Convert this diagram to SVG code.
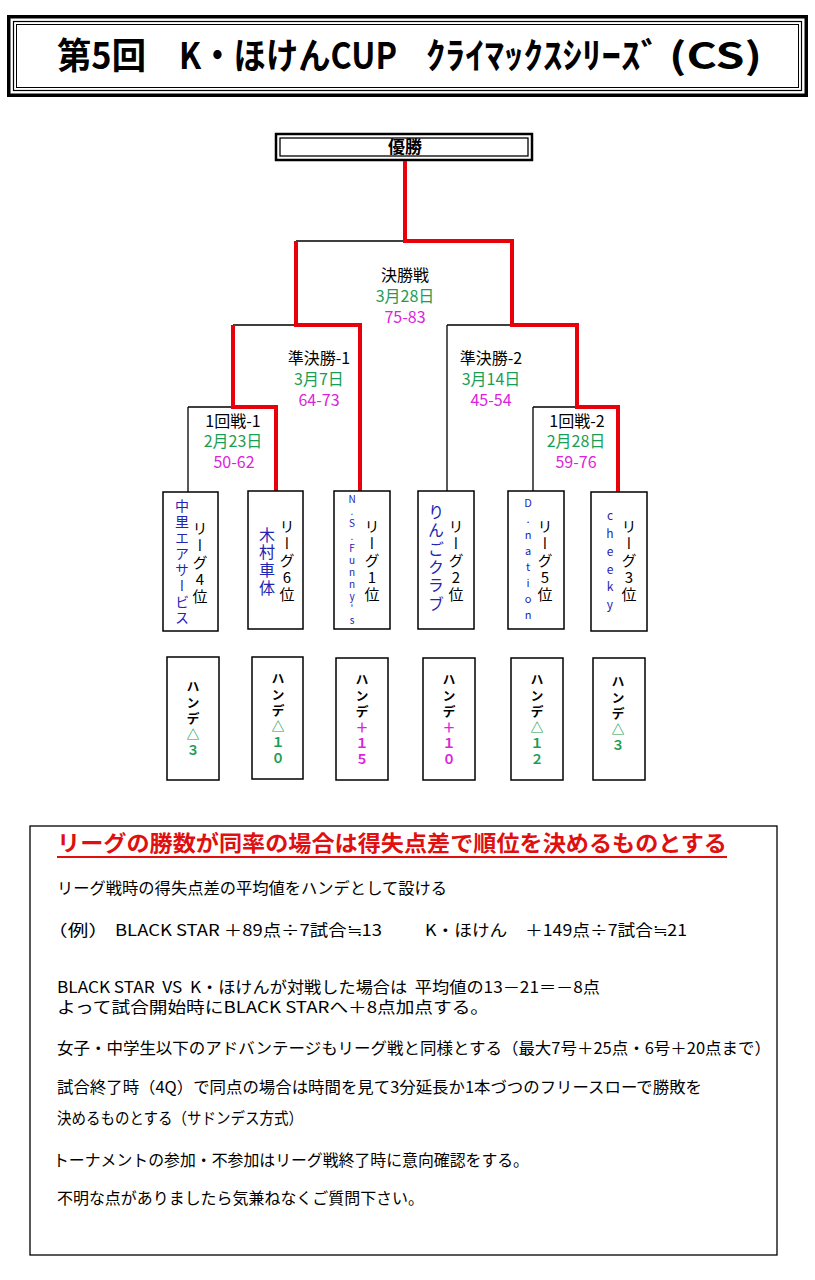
<svg xmlns="http://www.w3.org/2000/svg" width="815" height="1280" viewBox="0 0 815 1280">
<style>
text{font-family:"Noto Sans CJK JP","Noto Sans CJK SC",sans-serif;}
.box{fill:#fff;stroke:#000;stroke-width:1.5}
.thin{fill:none;stroke:#000;stroke-width:1.3}
.red{fill:none;stroke:#e8000b;stroke-width:4;stroke-linejoin:miter;stroke-linecap:butt}
.lbl{font-size:16px;text-anchor:middle;fill:#000}
.date{fill:#1a9e55}
.score{fill:#dd22dd}
.vt{writing-mode:vertical-rl;text-orientation:upright;text-anchor:middle}
.rank{font-size:15px;letter-spacing:2px;fill:#000}
.team{fill:#2424b4}
.hande{font-size:13px;font-weight:bold;letter-spacing:3px;fill:#000}
.grn{fill:#1a9e55}
.mag{fill:#dd22dd}
.note{font-size:16px;fill:#000}
</style>
<rect width="815" height="1280" fill="#fff"/>

<g id="title">
  <rect x="8.75" y="16.75" width="797.5" height="78.5" fill="#fff" stroke="#000" stroke-width="3.5"/>
  <rect x="13.5" y="21.5" width="788" height="69" fill="none" stroke="#000" stroke-width="1.2"/>
  <rect x="16.5" y="24.5" width="782" height="63" fill="none" stroke="#000" stroke-width="1"/>
  <text y="69" font-size="36" font-weight="bold" lengthAdjust="spacingAndGlyphs"><tspan x="57" textLength="89" lengthAdjust="spacingAndGlyphs">第5回</tspan><tspan x="179" textLength="218" lengthAdjust="spacingAndGlyphs">K・ほけんCUP</tspan><tspan x="426" textLength="234" lengthAdjust="spacingAndGlyphs">ｸﾗｲﾏｯｸｽｼﾘｰｽﾞ</tspan><tspan x="669" textLength="93" lengthAdjust="spacingAndGlyphs">(CS)</tspan></text>
</g>

<g id="champion">
  <rect x="276" y="134" width="256" height="26" fill="#fff" stroke="#000" stroke-width="2.5"/>
  <rect x="280" y="138" width="248" height="18" fill="none" stroke="#000" stroke-width="1.3"/>
  <text x="405" y="153" font-size="17" font-weight="bold" text-anchor="middle">優勝</text>
</g>

<g id="connectors">
  <path class="thin" d="M296,241 H405 M233,325 H296 M188,407 H233 M188,407 V492 M447,325 H512 M447,325 V491 M533,407 H577 M533,407 V491"/>
  <path class="red" d="M405,161 V241 H512 V325 H577 V407 H618 V492"/>
  <path class="red" d="M296,241 V325 H360 V491"/>
  <path class="red" d="M233,325 V407 H276 V491"/>
</g>

<g id="final-label">
  <text class="lbl" x="405" y="281">決勝戦</text>
  <text class="lbl date" x="405" y="302">3月28日</text>
  <text class="lbl score" x="405" y="323">75-83</text>
</g>
<g id="semi1-label">
  <text class="lbl" x="319" y="364">準決勝-1</text>
  <text class="lbl date" x="319" y="385">3月7日</text>
  <text class="lbl score" x="319" y="406">64-73</text>
</g>
<g id="semi2-label">
  <text class="lbl" x="491" y="364">準決勝-2</text>
  <text class="lbl date" x="491" y="385">3月14日</text>
  <text class="lbl score" x="491" y="406">45-54</text>
</g>
<g id="r1-1-label">
  <text class="lbl" x="233" y="427">1回戦-1</text>
  <text class="lbl date" x="233" y="447">2月23日</text>
  <text class="lbl score" x="234" y="468">50-62</text>
</g>
<g id="r1-2-label">
  <text class="lbl" x="577" y="427">1回戦-2</text>
  <text class="lbl date" x="576" y="447">2月28日</text>
  <text class="lbl score" x="576" y="468">59-76</text>
</g>

<g id="team1">
  <rect class="box" x="163" y="492" width="55" height="139"/>
  <text class="vt team" x="182" y="563" font-size="14" letter-spacing="2">中里エアサービス</text>
  <text class="vt rank" x="200" y="563">リーグ4位</text>
</g>
<g id="team2">
  <rect class="box" x="248" y="491" width="55" height="138"/>
  <text class="vt team" x="267" y="562" font-size="16" letter-spacing="1.7">木村車体</text>
  <text class="vt rank" x="287" y="561">リーグ6位</text>
</g>
<g id="team3">
  <rect class="box" x="334" y="491" width="56" height="138"/>
  <text class="vt team" x="352" y="561" font-size="10" letter-spacing="2.1">N.S.Funny's</text>
  <text class="vt rank" x="372" y="561">リーグ1位</text>
</g>
<g id="team4">
  <rect class="box" x="418" y="491" width="56" height="138"/>
  <text class="vt team" x="436" y="559" font-size="16" letter-spacing="2.3">りんごクラブ</text>
  <text class="vt rank" x="456" y="561">リーグ2位</text>
</g>
<g id="team5">
  <rect class="box" x="508" y="491" width="56" height="138"/>
  <text class="vt team" x="528" y="561" font-size="11" letter-spacing="5">D.nation</text>
  <text class="vt rank" x="545" y="561">リーグ5位</text>
</g>
<g id="team6">
  <rect class="box" x="591" y="492" width="56" height="139"/>
  <text class="vt team" x="610" y="563" font-size="12" letter-spacing="5.8">cheeky</text>
  <text class="vt rank" x="629" y="561">リーグ3位</text>
</g>

<g id="hande1">
  <rect class="box" x="167" y="657" width="52" height="123"/>
  <text class="vt hande" x="193" y="720">ハンデ<tspan class="grn">△３</tspan></text>
</g>
<g id="hande2">
  <rect class="box" x="252" y="657" width="51" height="122"/>
  <text class="vt hande" x="278" y="720">ハンデ<tspan class="grn">△１０</tspan></text>
</g>
<g id="hande3">
  <rect class="box" x="336" y="658" width="52" height="122"/>
  <text class="vt hande" x="362" y="721">ハンデ<tspan class="mag">＋１５</tspan></text>
</g>
<g id="hande4">
  <rect class="box" x="423" y="658" width="52" height="122"/>
  <text class="vt hande" x="449" y="721">ハンデ<tspan class="mag">＋１０</tspan></text>
</g>
<g id="hande5">
  <rect class="box" x="511" y="658" width="52" height="122"/>
  <text class="vt hande" x="537" y="721">ハンデ<tspan class="grn">△１２</tspan></text>
</g>
<g id="hande6">
  <rect class="box" x="593" y="658" width="52" height="122"/>
  <text class="vt hande" x="618" y="715">ハンデ<tspan class="grn">△３</tspan></text>
</g>

<g id="notes">
  <rect x="30" y="826" width="747" height="429" fill="#fff" stroke="#000" stroke-width="1.3"/>
  <text x="57" y="851" font-size="22" font-weight="bold" fill="#e01010" textLength="670" lengthAdjust="spacingAndGlyphs">リーグの勝数が同率の場合は得失点差で順位を決めるものとする</text>
  <line x1="57" y1="857" x2="727" y2="857" stroke="#e01010" stroke-width="2"/>
  <text class="note" x="57" y="894" textLength="390" lengthAdjust="spacingAndGlyphs">リーグ戦時の得失点差の平均値をハンデとして設ける</text>
  <text class="note" x="47" y="936" textLength="62" lengthAdjust="spacingAndGlyphs">（例）</text>
  <text class="note" x="115" y="936" textLength="267" lengthAdjust="spacingAndGlyphs">BLACK STAR ＋89点÷7試合≒13</text>
  <text class="note" x="425" y="936" textLength="262" lengthAdjust="spacingAndGlyphs">K・ほけん　＋149点÷7試合≒21</text>
  <text class="note" x="57" y="993" font-size="15.5" xml:space="preserve" style="white-space:pre" textLength="543" lengthAdjust="spacingAndGlyphs">BLACK STAR  VS  K・ほけんが対戦した場合は  平均値の13－21＝－8点</text>
  <text class="note" x="57" y="1013" font-size="15.5" textLength="432" lengthAdjust="spacingAndGlyphs">よって試合開始時にBLACK STARへ＋8点加点する。</text>
  <text class="note" x="57" y="1054" textLength="714" lengthAdjust="spacingAndGlyphs">女子・中学生以下のアドバンテージもリーグ戦と同様とする（最大7号＋25点・6号＋20点まで）</text>
  <text class="note" x="57" y="1093" textLength="645" lengthAdjust="spacingAndGlyphs">試合終了時（4Q）で同点の場合は時間を見て3分延長か1本づつのフリースローで勝敗を</text>
  <text class="note" x="57" y="1124" textLength="246" lengthAdjust="spacingAndGlyphs">決めるものとする（サドンデス方式）</text>
  <text class="note" x="53" y="1166" textLength="476" lengthAdjust="spacingAndGlyphs">トーナメントの参加・不参加はリーグ戦終了時に意向確認をする。</text>
  <text class="note" x="57" y="1204" textLength="367" lengthAdjust="spacingAndGlyphs">不明な点がありましたら気兼ねなくご質問下さい。</text>
</g>
</svg>
